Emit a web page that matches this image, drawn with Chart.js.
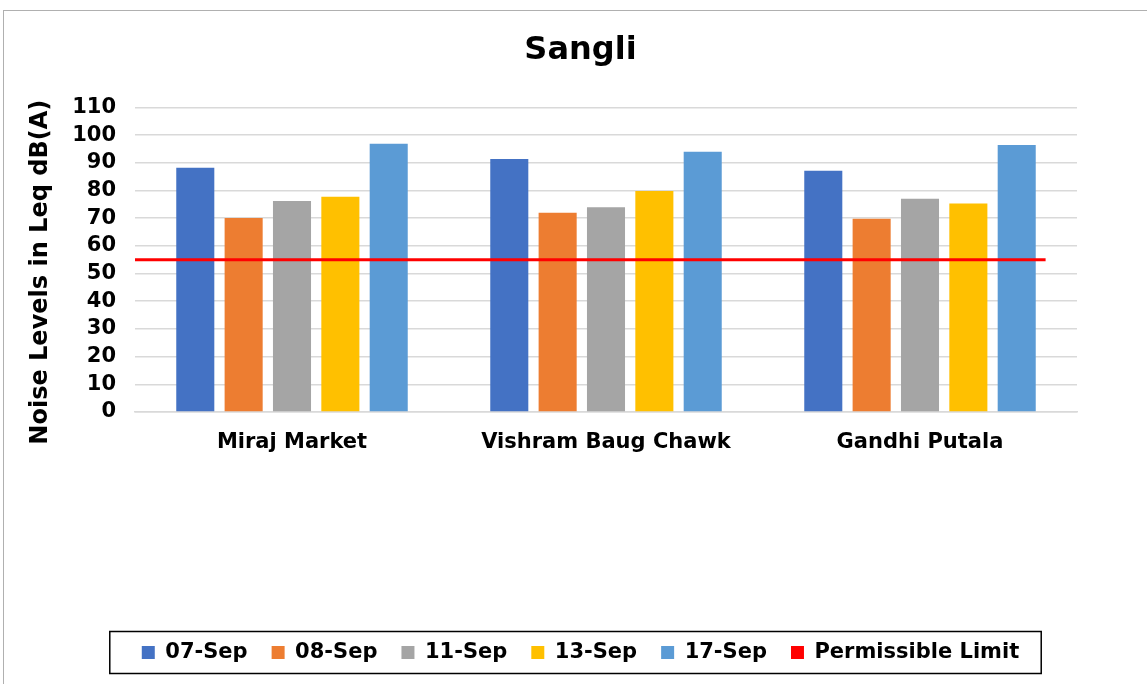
<!DOCTYPE html>
<html>
<head>
<meta charset="utf-8">
<script src="https://cdn.jsdelivr.net/npm/chart.js@4.4.1/dist/chart.umd.min.js"></script>
<style>
  html, body { margin: 0; padding: 0; background: #ffffff; }
  #frame { position: absolute; left: 3px; top: 10px; width: 1150px; height: 680px; border: 1px solid #b0b0b0; box-sizing: border-box; }
  #wrap { position: absolute; left: 0; top: 0; width: 1147px; height: 684px; }
</style>
</head>
<body>
<div id="frame"></div>
<div id="wrap"><canvas id="c" width="1147" height="684"></canvas></div>
<script>
const categories = ['Miraj Market', 'Vishram Baug Chawk', 'Gandhi Putala'];
const seriesNames = ['07-Sep', '08-Sep', '11-Sep', '13-Sep', '17-Sep'];
const sep07 = [88.2, 91.4, 87.1];
const sep08 = [70.1, 72.0, 69.8];
const sep11 = [76.2, 73.9, 77.0];
const sep13 = [77.7, 79.8, 75.3];
const sep17 = [96.9, 94.0, 96.4];
const limitName = 'Permissible Limit';
const limitValue = 55;
const limitSpan = [-0.5, 2.4];   // start/end of limit line in category units
const yTicks = [0, 10, 20, 30, 40, 50, 60, 70, 80, 90, 100, 110];

const colors = ['#4472C4', '#ED7D31', '#A5A5A5', '#FFC000', '#5B9BD5'];
const limitColor = '#FF0000';
const FONT = '"DejaVu Sans", Verdana, sans-serif';

const seriesValues = [sep07, sep08, sep11, sep13, sep17];
const datasets = seriesValues.map((vals, i) => ({
  type: 'bar',
  label: seriesNames[i],
  data: vals.map((v, k) => ({ x: k, y: v })),
  backgroundColor: colors[i],
  borderWidth: 0,
  categoryPercentage: 0.77,
  barPercentage: 0.787,
  order: 1
}));
datasets.push({
  type: 'line',
  label: limitName,
  data: limitSpan.map(x => ({ x: x, y: limitValue })),
  borderColor: limitColor,
  backgroundColor: limitColor,
  borderWidth: 3,
  pointRadius: 0,
  fill: false,
  order: 0
});

const legendBox = {
  id: 'legendBox',
  afterDraw(chart) {
    const lg = chart.legend;
    if (!lg || !lg.legendHitBoxes || !lg.legendHitBoxes.length) return;
    const hb = lg.legendHitBoxes;
    let l = Infinity, r = -Infinity;
    hb.forEach(b => { l = Math.min(l, b.left); r = Math.max(r, b.left + b.width); });
    const cy = hb[0].top + hb[0].height / 2;
    const ctx = chart.ctx;
    ctx.save();
    ctx.strokeStyle = '#000000';
    ctx.lineWidth = 1.5;
    ctx.strokeRect(l - 32, cy - 21, (r - l) + 54, 42);
    ctx.restore();
  }
};

new Chart(document.getElementById('c'), {
  type: 'bar',
  data: { datasets: datasets },
  options: {
    responsive: false,
    animation: false,
    layout: { padding: { left: 14, right: 0, top: 0, bottom: 11 } },
    plugins: {
      title: {
        display: true,
        text: 'Sangli',
        color: '#000000',
        font: { family: FONT, size: 32, weight: 'bold', lineHeight: 1.2 },
        padding: { top: 31, bottom: 38 }
      },
      legend: {
        display: true,
        position: 'bottom',
        labels: {
          color: '#000000',
          font: { family: FONT, size: 21, weight: 'bold', lineHeight: 1.2 },
          boxWidth: 13,
          boxHeight: 13,
          padding: 24,
          sort: (a, b) => a.datasetIndex - b.datasetIndex,
          generateLabels(chart) {
            return chart.data.datasets.map((ds, i) => ({
              text: ds.label,
              fillStyle: ds.type === 'line' ? ds.borderColor : ds.backgroundColor,
              strokeStyle: ds.type === 'line' ? ds.borderColor : ds.backgroundColor,
              lineWidth: 0,
              hidden: false,
              datasetIndex: i,
              fontColor: '#000000'
            }));
          }
        }
      },
      tooltip: { enabled: false }
    },
    scales: {
      x: {
        type: 'linear',
        position: 'bottom',
        min: -0.5,
        max: 2.5,
        offset: false,
        afterBuildTicks(scale) { scale.ticks = categories.map((c, i) => ({ value: i })); },
        grid: { display: false, drawTicks: false },
        border: { display: true, color: '#d9d9d9', width: 1.5 },
        ticks: {
          color: '#000000',
          font: { family: FONT, size: 21, weight: 'bold' },
          padding: 18,
          maxRotation: 0,
          autoSkip: false,
          callback: (v) => categories[v]
        },
        afterFit(scale) { scale.height = 206; }
      },
      y: {
        type: 'linear',
        position: 'left',
        min: 0,
        max: 110,
        afterBuildTicks(scale) { scale.ticks = yTicks.map(v => ({ value: v })); },
        grid: { color: '#d9d9d9', lineWidth: 1.5, drawTicks: false },
        border: { display: false },
        ticks: {
          color: '#000000',
          font: { family: FONT, size: 21, weight: 'bold' },
          padding: 19,
          autoSkip: false
        },
        title: {
          display: true,
          text: 'Noise Levels in Leq dB(A)   ',
          color: '#000000',
          font: { family: FONT, size: 24, weight: 'bold' },
          padding: { top: 12, bottom: 0 }
        },
        afterFit(scale) { scale.width = 121; }
      },
      yRight: {
        type: 'linear',
        position: 'right',
        display: true,
        min: 0,
        max: 110,
        grid: { display: false, drawTicks: false },
        border: { display: false },
        ticks: { display: false },
        afterFit(scale) { scale.width = 70; }
      }
    }
  },
  plugins: [legendBox]
});
</script>
</body>
</html>
